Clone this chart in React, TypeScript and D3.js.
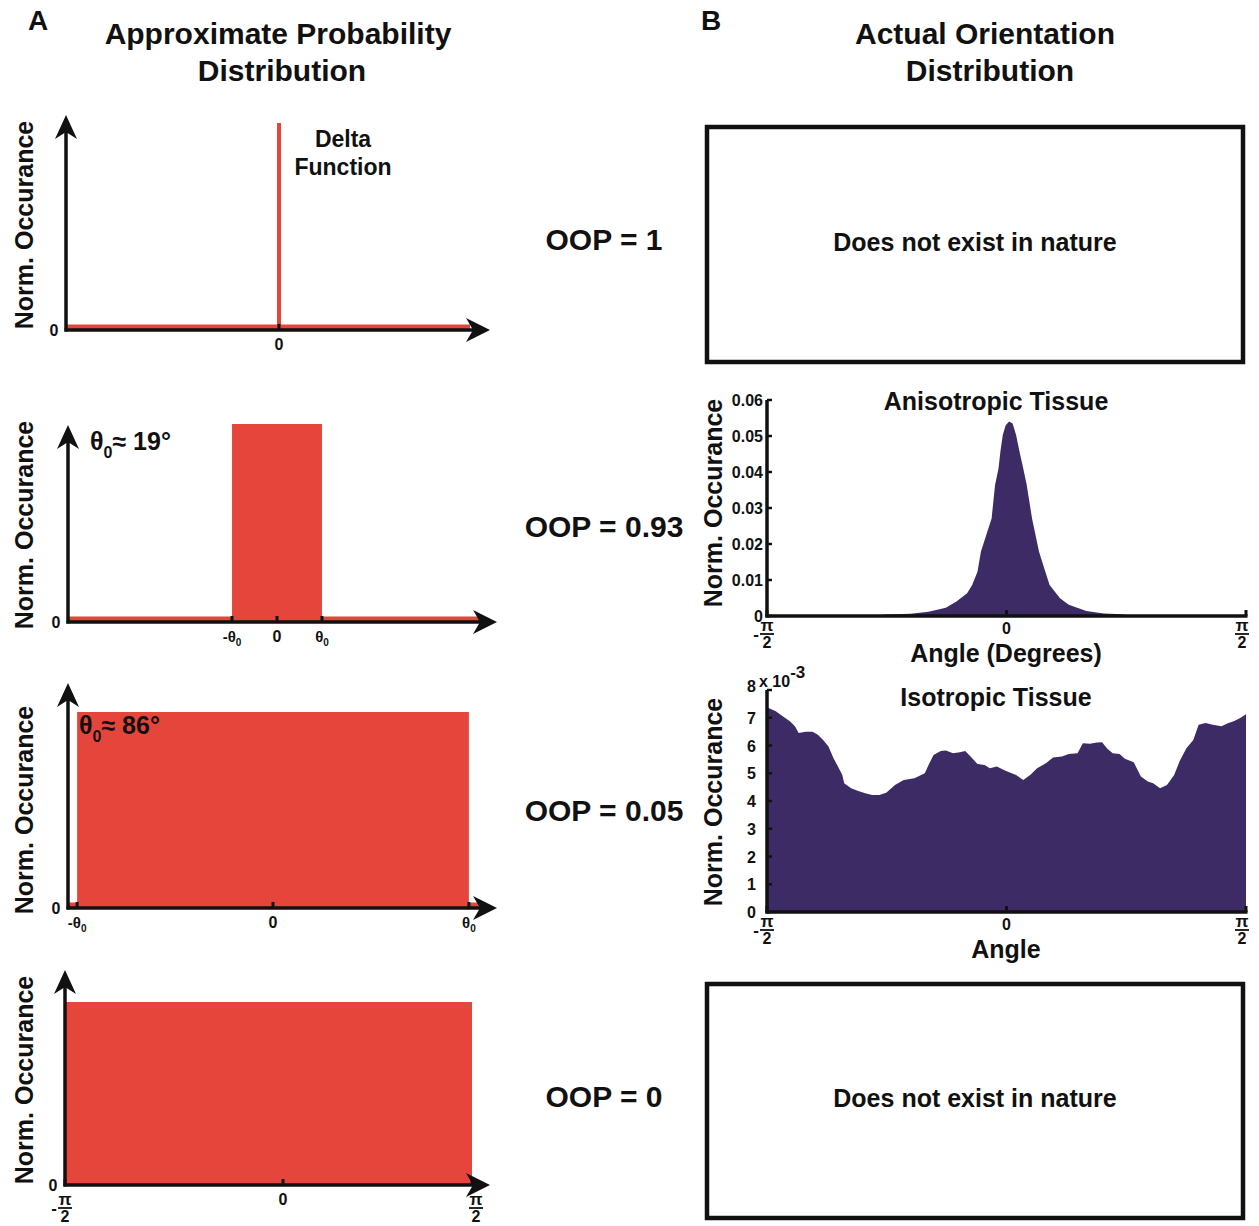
import React from "react";
import * as d3 from "d3";

const FONT = '"Liberation Sans", Arial, Helvetica, sans-serif';
const RED = "#E6453B";
const PURPLE = "#3D2B65";
const INK = "#111";

// ---------- DATA ----------
const oopLabels = ["OOP = 1", "OOP = 0.93", "OOP = 0.05", "OOP = 0"];
const distKinds = ["delta", "uniform", "uniform", "uniform"];
const theta0Deg = [0, 19, 86, 90];
const thetaNotes = ["", "19°", "86°", ""];
const leftTickValues = [[0], [-19, 0, 19], [-86, 0, 86], [-90, 0, 90]];
const leftTickKinds = [["0"], ["-θ", "0", "θ"], ["-θ", "0", "θ"], ["-pi", "0", "pi"]];

const anisoAngles = [-90, -52, -45, -36, -29.3, -22.8, -18.8, -14.8, -12.9, -10.9, -9.6, -7.6, -5.6, -4.3, -3.0, -2.3, -1.4, -0.3, 1.0, 2.3, 3.6, 4.9, 6.3, 7.6, 9.6, 10.9, 12.2, 14.2, 16.2, 20.1, 23.4, 30.0, 36.6, 43.2, 47, 90];
const anisoValues = [0, 0.0001, 0.0004, 0.0006, 0.0012, 0.0023, 0.004, 0.0063, 0.0086, 0.0123, 0.0179, 0.0225, 0.0271, 0.0364, 0.041, 0.0456, 0.0503, 0.053, 0.054, 0.0535, 0.0503, 0.0456, 0.041, 0.0364, 0.0271, 0.0225, 0.0179, 0.0132, 0.0086, 0.0049, 0.0031, 0.0014, 0.0007, 0.0005, 0.0001, 0];
const anisoYTicks = [0, 0.01, 0.02, 0.03, 0.04, 0.05, 0.06];

const isoAngles = [-90, -89.4, -86.7, -84.1, -81.4, -79.5, -78.1, -75.5, -72.9, -70.9, -68.9, -66.9, -65.0, -63.0, -61.7, -61.0, -58.4, -55.7, -53.1, -50.5, -47.8, -45.2, -41.9, -38.6, -34.6, -30.7, -29.3, -27.4, -24.7, -22.8, -20.1, -17.5, -15.5, -13.5, -10.9, -8.2, -6.3, -3.6, -1.0, 1.0, 3.6, 6.3, 8.9, 11.5, 14.8, 17.5, 20.8, 23.4, 26.7, 28.7, 31.3, 34.0, 35.9, 37.9, 39.9, 42.5, 44.5, 47.8, 50.5, 53.1, 55.1, 57.7, 60.3, 63.0, 65.0, 67.6, 70.2, 72.2, 74.8, 77.5, 80.8, 83.4, 85.4, 88.0, 90];
const isoValues = [7.3, 7.35, 7.23, 7.05, 6.87, 6.69, 6.45, 6.5, 6.5, 6.39, 6.2, 5.96, 5.54, 5.18, 4.94, 4.64, 4.46, 4.36, 4.28, 4.22, 4.22, 4.3, 4.58, 4.76, 4.82, 5.0, 5.3, 5.66, 5.8, 5.82, 5.72, 5.76, 5.8, 5.6, 5.33, 5.3, 5.18, 5.24, 5.12, 5.04, 4.94, 4.76, 4.94, 5.18, 5.36, 5.57, 5.6, 5.69, 5.72, 6.08, 6.06, 6.11, 6.12, 5.88, 5.72, 5.69, 5.52, 5.4, 4.88, 4.7, 4.64, 4.46, 4.58, 4.94, 5.42, 5.9, 6.2, 6.75, 6.81, 6.75, 6.69, 6.81, 6.87, 7.0, 7.13];
const isoYTicks = [0, 1, 2, 3, 4, 5, 6, 7, 8];

// ---------- LAYOUT ----------
const leftLayouts = [
  { axisX: 66, axisY: 330, tipY: 115, tipX: 490, range: [66, 279, 470], top: 123, labelY: 225 },
  { axisX: 68, axisY: 622, tipY: 425, tipX: 497, range: [64, 277, 490], top: 424, labelY: 525 },
  { axisX: 68, axisY: 908, tipY: 683, tipX: 497, range: [68, 273, 478], top: 712, labelY: 810 },
  { axisX: 65, axisY: 1185, tipY: 970, tipX: 490, range: [65, 283, 472], top: 1002, labelY: 1080 },
];
const oopY = [250, 537, 821, 1107];
const notePos = [null, { x: 90, y: 450 }, { x: 79, y: 734 }, null];

const txt = (extra: any = {}) => ({ fontFamily: FONT, fontWeight: "bold", fill: INK, ...extra });

function PiFrac({ x, y, neg, size = 17 }: { x: number; y: number; neg: boolean; size?: number }) {
  return (
    <g>
      <text x={x} y={y} textAnchor="middle" fontSize={size} {...txt()}>π</text>
      <line x1={x - 7} x2={x + 7} y1={y + 3} y2={y + 3} stroke={INK} strokeWidth={1.8} />
      <text x={x} y={y + 17} textAnchor="middle" fontSize={size - 1} {...txt()}>2</text>
      {neg && (
        <text x={x - 8} y={y + 9} textAnchor="end" fontSize={size} {...txt()}>-</text>
      )}
    </g>
  );
}

function xArrow(tipX: number, y: number) {
  return `M${tipX},${y} L${tipX - 24},${y - 12} L${tipX - 17},${y} L${tipX - 24},${y + 12} Z`;
}
function yArrow(x: number, tipY: number) {
  return `M${x},${tipY} L${x - 11},${tipY + 24} L${x},${tipY + 17} L${x + 11},${tipY + 24} Z`;
}

function LeftPanel({ i }: { i: number }) {
  const L = leftLayouts[i];
  const x = d3.scaleLinear().domain([-90, 0, 90]).range(L.range);
  const y = d3.scaleLinear().domain([0, 1]).range([L.axisY, L.top]);
  const kind = distKinds[i];
  const th = theta0Deg[i];
  const ticks = leftTickValues[i];
  const tkinds = leftTickKinds[i];
  return (
    <g>
      {kind === "uniform" && th < 90 && (
        <line x1={L.axisX} x2={L.tipX - 18} y1={L.axisY - 3} y2={L.axisY - 3} stroke={RED} strokeWidth={5} />
      )}
      {kind === "delta" && (
        <>
          <line x1={L.axisX} x2={x(90)} y1={L.axisY - 3} y2={L.axisY - 3} stroke={RED} strokeWidth={5} />
          <line x1={x(0)} x2={x(0)} y1={y(1)} y2={L.axisY} stroke={RED} strokeWidth={4} />
        </>
      )}
      {kind === "uniform" && (
        <rect x={x(-th)} width={x(th) - x(-th)} y={y(1)} height={L.axisY - y(1)} fill={RED} />
      )}
      {ticks.map((t, k) => (
        <line key={k} x1={x(t)} x2={x(t)} y1={L.axisY} y2={L.axisY - 6} stroke={INK} strokeWidth={3} />
      ))}
      <line x1={L.axisX - 1.5} x2={L.tipX - 12} y1={L.axisY} y2={L.axisY} stroke={INK} strokeWidth={3.5} />
      <line x1={L.axisX} x2={L.axisX} y1={L.axisY + 1.5} y2={L.tipY + 12} stroke={INK} strokeWidth={3.5} />
      <path d={xArrow(L.tipX, L.axisY)} fill={INK} />
      <path d={yArrow(L.axisX, L.tipY)} fill={INK} />
      <text x={L.axisX - 12} y={L.axisY + 6} textAnchor="middle" fontSize={16} {...txt()}>0</text>
      {ticks.map((t, k) => {
        const kk = tkinds[k];
        if (kk === "pi" || kk === "-pi") {
          return <PiFrac key={k} x={x(t) + (kk === "pi" ? 4 : 0)} y={L.axisY + 20} neg={kk === "-pi"} />;
        }
        if (kk === "-θ" || kk === "θ") {
          return (
            <text key={k} x={x(t)} y={L.axisY + 20} textAnchor="middle" fontSize={15} {...txt()}>
              {kk}
              <tspan fontSize={10} dy={4}>0</tspan>
            </text>
          );
        }
        return (
          <text key={k} x={x(t)} y={L.axisY + 20} textAnchor="middle" fontSize={16} {...txt()}>{kk}</text>
        );
      })}
      <text
        transform={`translate(33,${L.labelY}) rotate(-90)`}
        textAnchor="middle"
        fontSize={25}
        {...txt()}
      >
        Norm. Occurance
      </text>
      {notePos[i] && (
        <text x={notePos[i]!.x} y={notePos[i]!.y} fontSize={25} {...txt()}>
          θ<tspan fontSize={16} dy={8}>0</tspan>
          <tspan dy={-8}>≈ {thetaNotes[i]}</tspan>
        </text>
      )}
      {kind === "delta" && (
        <>
          <text x={343} y={147} textAnchor="middle" fontSize={23} {...txt()}>Delta</text>
          <text x={343} y={175} textAnchor="middle" fontSize={23} {...txt()}>Function</text>
        </>
      )}
      <text x={604} y={oopY[i]} textAnchor="middle" fontSize={30} {...txt()}>{oopLabels[i]}</text>
    </g>
  );
}

function Histogram({
  angles, values, yMax, axisY, topY, ticks, tickFmt, labelX, title, titleY, xlabel, xlabelY, labelY, exponent,
}: any) {
  const x = d3.scaleLinear().domain([-90, 90]).range([767, 1246]);
  const y = d3.scaleLinear().domain([0, yMax]).range([axisY, topY]);
  const area = d3
    .area<number>()
    .x((_, k) => x(angles[k]))
    .y0(axisY)
    .y1((d) => y(d))
    .curve(d3.curveLinear);
  return (
    <g>
      <path d={area(values) || ""} fill={PURPLE} />
      <line x1={767} x2={767} y1={axisY + 1.5} y2={topY} stroke={INK} strokeWidth={3.5} />
      <line x1={765.5} x2={1247.5} y1={axisY} y2={axisY} stroke={INK} strokeWidth={3.5} />
      {ticks.map((t: number) => (
        <g key={t}>
          <line x1={767} x2={772} y1={y(t)} y2={y(t)} stroke={INK} strokeWidth={2.5} />
          <text x={labelX} y={y(t) + 6 - (exponent && t === yMax ? 4 : 0)} textAnchor="end" fontSize={16} {...txt()}>
            {tickFmt(t)}
          </text>
        </g>
      ))}
      {[-90, 0, 90].map((a) => (
        <line key={a} x1={x(a)} x2={x(a)} y1={axisY} y2={axisY - 6} stroke={INK} strokeWidth={3} />
      ))}
      <PiFrac x={x(-90)} y={axisY + 15} neg={true} />
      <PiFrac x={x(90) - 4} y={axisY + 15} neg={false} />
      <text x={x(0)} y={axisY + 18} textAnchor="middle" fontSize={16} {...txt()}>0</text>
      {exponent && (
        <text x={759} y={topY - 3} fontSize={16} {...txt()}>
          x 10<tspan fontSize={17} dy={-9}>-3</tspan>
        </text>
      )}
      <text x={996} y={titleY} textAnchor="middle" fontSize={25} {...txt()}>{title}</text>
      <text x={1006} y={xlabelY} textAnchor="middle" fontSize={25} {...txt()}>{xlabel}</text>
      <text transform={`translate(722,${labelY}) rotate(-90)`} textAnchor="middle" fontSize={25} {...txt()}>
        Norm. Occurance
      </text>
    </g>
  );
}

export default function App() {
  return (
    <svg
      width={1259}
      height={1226}
      style={{ position: "absolute", left: 0, top: 0, background: "#fff" }}
    >
      <rect width={1259} height={1226} fill="#fff" />
      <text x={38} y={30} textAnchor="middle" fontSize={28} {...txt()}>A</text>
      <text x={711} y={30} textAnchor="middle" fontSize={28} {...txt()}>B</text>
      <text x={278} y={44} textAnchor="middle" fontSize={30} {...txt()}>Approximate Probability</text>
      <text x={282} y={81} textAnchor="middle" fontSize={30} {...txt()}>Distribution</text>
      <text x={985} y={44} textAnchor="middle" fontSize={30} {...txt()}>Actual Orientation</text>
      <text x={990} y={81} textAnchor="middle" fontSize={30} {...txt()}>Distribution</text>

      {leftLayouts.map((_, i) => (
        <LeftPanel key={i} i={i} />
      ))}

      <rect x={707} y={127} width={536} height={235} fill="none" stroke={INK} strokeWidth={4.5} />
      <text x={975} y={251} textAnchor="middle" fontSize={25} {...txt()}>Does not exist in nature</text>

      <Histogram
        angles={anisoAngles}
        values={anisoValues}
        yMax={0.06}
        axisY={616}
        topY={400}
        ticks={anisoYTicks}
        tickFmt={(t: number) => (t === 0 ? "0" : t.toFixed(2))}
        labelX={763}
        title="Anisotropic Tissue"
        titleY={410}
        xlabel="Angle (Degrees)"
        xlabelY={662}
        labelY={503}
        exponent={false}
      />
      <Histogram
        angles={isoAngles}
        values={isoValues}
        yMax={8}
        axisY={912}
        topY={690}
        ticks={isoYTicks}
        tickFmt={(t: number) => String(t)}
        labelX={756}
        title="Isotropic Tissue"
        titleY={706}
        xlabel="Angle"
        xlabelY={958}
        labelY={802}
        exponent={true}
      />

      <rect x={707} y={984} width={536} height={234} fill="none" stroke={INK} strokeWidth={4.5} />
      <text x={975} y={1107} textAnchor="middle" fontSize={25} {...txt()}>Does not exist in nature</text>
    </svg>
  );
}
